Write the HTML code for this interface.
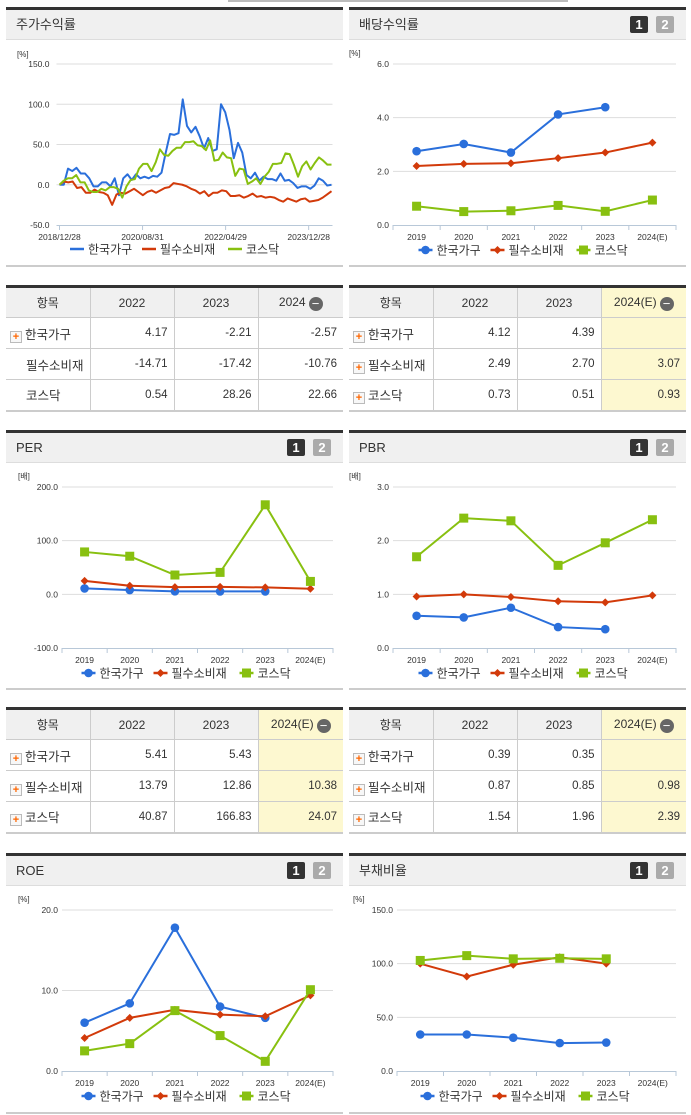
<!DOCTYPE html>
<html><head><meta charset="utf-8">
<style>
*{margin:0;padding:0;box-sizing:border-box}
body{width:691px;height:1115px;background:#fff;position:relative;overflow:hidden;font-family:"Liberation Sans","Noto Sans CJK KR",sans-serif;color:#333}
.panel{position:absolute;border-top:3px solid #333;border-bottom:2px solid #ccc}
.hdr{height:30px;background:#f0f0f0;border-bottom:1px solid #ddd;font-size:13px;line-height:30px;padding-left:10px;color:#333;position:relative}
.b{position:absolute;top:6px;width:18px;height:17px;color:#fff;font-weight:bold;font-size:13px;line-height:17px;text-align:center;border-radius:2px}
.b1{right:38px;background:#333}.b2{right:12px;background:#aaa}
svg{position:absolute;left:0;top:0}
table{position:absolute;border-collapse:collapse;font-size:12px;border-top:3px solid #333;border-bottom:2px solid #ccc}
td,th{border:1px solid #ccc;height:31px;font-weight:normal}
table tr>*:first-child{border-left:none}
table tr>*:last-child{border-right:none}
th{background:#f0f0f0;text-align:center}
td{text-align:right;padding-right:6px;font-size:11.5px}
td.n{text-align:left;padding-left:4px;font-size:12.5px}
.pl{display:inline-block;width:12px;height:12px;border:1px solid #bbb;background:#f7f7f7;color:#f60;font-size:11px;line-height:10px;text-align:center;font-weight:bold;vertical-align:-1px;margin-right:3px}
.sp{display:inline-block;width:16px}
.mi{display:inline-block;width:14px;height:14px;border-radius:7px;background:#666;color:#fff;line-height:13px;font-size:13px;vertical-align:-2px;margin-left:3px}
.y{background:#fdf8d0}
</style></head><body>
<div style="position:absolute;left:228px;top:0;width:340px;height:2px;background:#bbb"></div>

<svg id="cv" width="691" height="1115"></svg>

<table style="left:6px;top:285px;width:337px">
<tr><th style="width:84px">항목</th><th style="width:84px">2022</th><th style="width:84px">2023</th><th>2024<span class="mi">−</span></th></tr>
<tr><td class="n"><span class="pl">+</span>한국가구</td><td>4.17</td><td>-2.21</td><td>-2.57</td></tr>
<tr><td class="n"><span class="sp"></span>필수소비재</td><td>-14.71</td><td>-17.42</td><td>-10.76</td></tr>
<tr><td class="n"><span class="sp"></span>코스닥</td><td>0.54</td><td>28.26</td><td>22.66</td></tr>
</table>
<table style="left:349px;top:285px;width:337px">
<tr><th style="width:84px">항목</th><th style="width:84px">2022</th><th style="width:84px">2023</th><th class="y">2024(E)<span class="mi">−</span></th></tr>
<tr><td class="n"><span class="pl">+</span>한국가구</td><td>4.12</td><td>4.39</td><td class="y"></td></tr>
<tr><td class="n"><span class="pl">+</span>필수소비재</td><td>2.49</td><td>2.70</td><td class="y">3.07</td></tr>
<tr><td class="n"><span class="pl">+</span>코스닥</td><td>0.73</td><td>0.51</td><td class="y">0.93</td></tr>
</table>
<table style="left:6px;top:707px;width:337px">
<tr><th style="width:84px">항목</th><th style="width:84px">2022</th><th style="width:84px">2023</th><th class="y">2024(E)<span class="mi">−</span></th></tr>
<tr><td class="n"><span class="pl">+</span>한국가구</td><td>5.41</td><td>5.43</td><td class="y"></td></tr>
<tr><td class="n"><span class="pl">+</span>필수소비재</td><td>13.79</td><td>12.86</td><td class="y">10.38</td></tr>
<tr><td class="n"><span class="pl">+</span>코스닥</td><td>40.87</td><td>166.83</td><td class="y">24.07</td></tr>
</table>
<table style="left:349px;top:707px;width:337px">
<tr><th style="width:84px">항목</th><th style="width:84px">2022</th><th style="width:84px">2023</th><th class="y">2024(E)<span class="mi">−</span></th></tr>
<tr><td class="n"><span class="pl">+</span>한국가구</td><td>0.39</td><td>0.35</td><td class="y"></td></tr>
<tr><td class="n"><span class="pl">+</span>필수소비재</td><td>0.87</td><td>0.85</td><td class="y">0.98</td></tr>
<tr><td class="n"><span class="pl">+</span>코스닥</td><td>1.54</td><td>1.96</td><td class="y">2.39</td></tr>
</table>

<script>
// ---- data ----
const years = ["2019","2020","2021","2022","2023","2024(E)"];
const seriesNames = ["한국가구","필수소비재","코스닥"];
const divKor = [2.75,3.02,2.70,4.12,4.39];
const divCons = [2.20,2.28,2.30,2.49,2.70,3.07];
const divKosdaq = [0.70,0.50,0.53,0.73,0.51,0.93];
const divTicks = [0,2,4,6];
const perKor = [11,8,5.5,5.41,5.43];
const perCons = [25,16,13.5,13.79,12.86,10.38];
const perKosdaq = [79,71,36,40.87,166.83,24.07];
const perTicks = [-100,0,100,200];
const pbrKor = [0.60,0.57,0.75,0.39,0.35];
const pbrCons = [0.96,1.00,0.95,0.87,0.85,0.98];
const pbrKosdaq = [1.70,2.42,2.37,1.54,1.96,2.39];
const pbrTicks = [0,1,2,3];
const roeKor = [6.0,8.4,17.8,8.0,6.6];
const roeCons = [4.1,6.6,7.6,7.0,6.8,9.4];
const roeKosdaq = [2.5,3.4,7.5,4.4,1.2,10.1];
const roeTicks = [0,10,20];
const debtKor = [34,34,31,26,26.5];
const debtCons = [100,88,99,106,100];
const debtKosdaq = [103,107.5,104.5,105,104.5];
const debtTicks = [0,50,100,150];
const retTicks = [-50,0,50,100,150];
const retDates = ["2018/12/28","2020/08/31","2022/04/29","2023/12/28"];
const retKor = [0,0,20,17,21,14,14,8,-2,-2,3,3,-2,8,-13,8,13,6,13,8,10,8,11,10,15,40,63,62,64,106,73,65,72,60,45,58,42,44,100,90,68,33,52,40,12,8,15,5,10,7,7,5,14,5,6,2,-4,-2,-2,-5,-1,8,5,-1,0];
const retCons = [0,4,3,4,-4,-3,-10,-10,-6,-9,-10,-13,-25,-12,-10,-11,-8,-5,-9,-13,-9,-7,-10,-7,-4,-3,2,1,0,-2,-5,-7,-11,-8,-14,-10,-10,-7,-8,-14,-14,-13,-16,-14,-11,-15,-14,-16,-15,-16,-19,-21,-17,-19,-21,-18,-17,-21,-20,-19,-16,-12,-8];
const retKosdaq = [0,5,8,8,12,3,3,-7,-9,-9,-5,-7,-3,-3,-5,-16,-2,6,7,20,26,26,17,28,44,37,36,42,46,46,53,53,54,49,48,43,55,30,31,40,34,33,11,20,19,1,4,8,1,10,16,26,26,27,39,38,25,10,23,29,19,27,34,30,25,25];

const COL = ["#2a6fdb","#d23a0a","#88c010"];
const NS = "http://www.w3.org/2000/svg";
const cv = document.getElementById('cv');
function mk(tag, at, parent){const e=document.createElementNS(NS,tag);for(const k in at)e.setAttribute(k,at[k]);(parent||cv).appendChild(e);return e;}
function txt(x,y,s,size,anchor,parent){const t=mk('text',{x:x,y:y,'font-size':size,'text-anchor':anchor||'start',fill:'#333','font-family':'"Liberation Sans","Noto Sans CJK KR",sans-serif'},parent);t.textContent=s;return t;}

function panel(x,top,w,h,title,badges,name){
  const d=document.createElement('div');d.className='panel';
  
  
  d.style.cssText=`left:${x}px;top:${top}px;width:${w}px;height:${h}px`;
  const hd=document.createElement('div');hd.className='hdr';hd.textContent=title;
  
  
  if(badges){
    const b1=document.createElement('span');b1.className='b b1';b1.textContent='1';
    
    
    const b2=document.createElement('span');b2.className='b b2';b2.textContent='2';
    
    
    hd.appendChild(b1);hd.appendChild(b2);
  }
  d.appendChild(hd);document.body.insertBefore(d,cv);
}

function marker(g,kind,x,y,c){
  if(kind===0){const m=mk('circle',{cx:x,cy:y,r:4.3,fill:c},g);}
  else if(kind===1){const m=mk('path',{d:`M${x} ${y-4}L${x+4} ${y}L${x} ${y+4}L${x-4} ${y}Z`,fill:c},g);}
  else {const m=mk('rect',{x:x-4.5,y:y-4.5,width:9,height:9,fill:c},g);}
}

function legend(cx,y,withMarkers){
  const g=mk('g',{});
  
  
  const widths=[62,76,50];const tot=widths.reduce((a,b)=>a+b,0)+20;
  let x=cx-tot/2;
  seriesNames.forEach((n,i)=>{
    const e=mk('g',{},g);
    
    
    mk('line',{x1:x,y1:y,x2:x+14,y2:y,stroke:COL[i],'stroke-width':2.5},e);
    if(withMarkers)marker(e,i,x+7,y,COL[i]);
    txt(x+18,y+4.5,n,12,'start',e);
    x+=widths[i]+10;
  });
}

function yearChart(T,L,R,ticks,unit,kor,cons,kos,name){
  const top=T+57,bot=T+218;
  const ymin=ticks[0],ymax=ticks[ticks.length-1];
  const Y=v=>bot-(v-ymin)/(ymax-ymin)*(bot-top);
  const bw=(R-L)/years.length;
  const X=i=>L+bw*(i+0.5);
  const g=mk('g',{});
  
  
  txt(L-44,T+49,unit,8,'start',g);
  ticks.forEach(t=>{
    if(t!==ymin)mk('line',{x1:L,x2:R,y1:Y(t),y2:Y(t),stroke:'#ddd','stroke-width':1},g);
    const lb=txt(L-4,Y(t)+3,t.toFixed(1),8.5,'end',g);
    
    
  });
  mk('line',{x1:L,x2:R,y1:bot+0.5,y2:bot+0.5,stroke:'#b8c8d8','stroke-width':1},g);
  for(let i=0;i<=years.length;i++)mk('line',{x1:L+bw*i,x2:L+bw*i,y1:bot,y2:bot+5,stroke:'#b8c8d8'},g);
  years.forEach((yr,i)=>{const l=txt(X(i),bot+15,yr,8.5,'middle',g);});
  [kor,cons,kos].forEach((s,k)=>{
    const sg=mk('g',{},g);
    
    
    mk('polyline',{points:s.map((v,i)=>`${X(i)},${Y(v)}`).join(' '),fill:'none',stroke:COL[k],'stroke-width':2},sg);
    s.forEach((v,i)=>marker(sg,k,X(i),Y(v),COL[k]));
  });
  legend((L+R)/2-12,T+243,true);
}

function returnChart(T,L,R){
  const top=T+57,bot=T+218;
  const ymin=retTicks[0],ymax=retTicks[retTicks.length-1];
  const Y=v=>bot-(v-ymin)/(ymax-ymin)*(bot-top);
  const g=mk('g',{});
  
  
  txt(17,T+50,'[%]',8,'start',g);
  retTicks.forEach(t=>{
    if(t!==ymin)mk('line',{x1:L-3,x2:R+1,y1:Y(t),y2:Y(t),stroke:'#ddd'},g);
    const l=txt(L-10,Y(t)+3,t.toFixed(1),8.5,'end',g);
    
    
  });
  mk('line',{x1:L-3,x2:R+1,y1:bot+0.5,y2:bot+0.5,stroke:'#b8c8d8'},g);
  const dx=(R-L)/65.5*20;
  retDates.forEach((d,i)=>{
    const x=L+dx*i+ (i===0?0:0);
    mk('line',{x1:x,x2:x,y1:bot,y2:bot+5,stroke:'#b8c8d8'},g);
    const l=txt(x,bot+15,d,8.5,'middle',g);
    
    
  });
  [retKor,retCons,retKosdaq].forEach((s,k)=>{
    const X=i=>L+(R-L)*i/(s.length-1);
    const p=mk('polyline',{points:s.map((v,i)=>`${X(i)},${Y(v)}`).join(' '),fill:'none',stroke:COL[k],'stroke-width':2,'stroke-linejoin':'round'},g);
    
    
  });
  legend(174,T+242,false);
}

panel(6,7,337,260,'주가수익률',false,'stock-return-panel');
panel(349,7,337,260,'배당수익률',true,'dividend-yield-panel');
panel(6,430,337,260,'PER',true,'per-panel');
panel(349,430,337,260,'PBR',true,'pbr-panel');
panel(6,853,337,261,'ROE',true,'roe-panel');
panel(349,853,337,261,'부채비율',true,'debt-ratio-panel');

returnChart(7,59.5,331.5);
yearChart(7,393,676,divTicks,'[%]',divKor,divCons,divKosdaq,'dividend-chart');
yearChart(430,62,333,perTicks,'[배]',perKor,perCons,perKosdaq,'per-chart');
yearChart(430,393,676,pbrTicks,'[배]',pbrKor,pbrCons,pbrKosdaq,'pbr-chart');
yearChart(853,62,333,roeTicks,'[%]',roeKor,roeCons,roeKosdaq,'roe-chart');
yearChart(853,397,676,debtTicks,'[%]',debtKor,debtCons,debtKosdaq,'debt-chart');
</script>
</body></html>
